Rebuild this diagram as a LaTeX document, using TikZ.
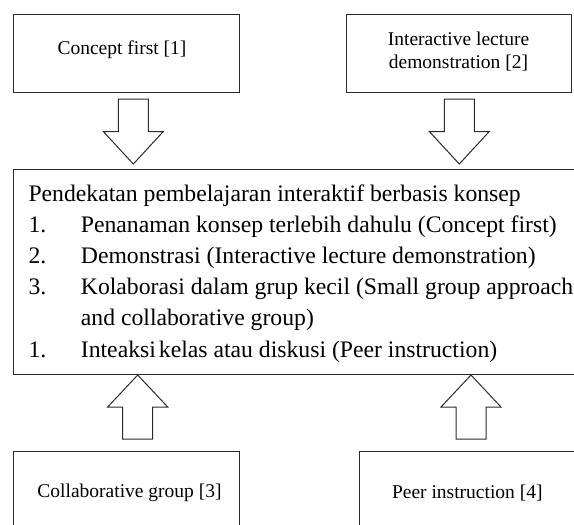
\documentclass[tikz,border=0pt]{standalone}
\usepackage{fontspec}
\setmainfont{Liberation Serif}
\usetikzlibrary{calc}
\definecolor{linec}{HTML}{2B2B2B}
\newcommand\blockarr[2]{%
  \draw[blockarrow] let \p1=(#1), \p2=(#2), \n1={(\y2-\y1)/2} in
    (\x1-15pt,\y1) -- (\x1-15pt,\y1+\n1) -- (\x1-30pt,\y1+\n1) -- (\x2,\y2)
    -- (\x1+30pt,\y1+\n1) -- (\x1+15pt,\y1+\n1) -- (\x1+15pt,\y1) -- cycle;}
\begin{document}
\begin{tikzpicture}[x=1pt,y=-1pt,
  box/.style={draw=linec, line width=1pt, rectangle, inner sep=0pt},
  boxtext/.style={font=\fontsize{19.5}{22.4}\selectfont, align=center, inner sep=0pt, anchor=base},
  maintext/.style={font=\fontsize{23.7}{31}\selectfont, inner sep=0pt, anchor=base west},
  blockarrow/.style={draw=linec, line width=1pt, fill=white, line join=miter}]
\useasboundingbox (0,0) rectangle (574,525);
% boxes
\node[box, minimum width=225.7pt, minimum height=78pt] (A) at (126.15,53.3) {};
\node[box, minimum width=225.7pt, minimum height=78pt] (B) at (458.85,53.3) {};
\node[box, minimum width=586.7pt, minimum height=205.3pt] (M) at (306.65,271.65) {};
\node[box, minimum width=225.7pt, minimum height=108.5pt] (C) at (126.15,505.75) {};
\node[box, minimum width=241pt, minimum height=108.5pt] (D) at (479.5,505.75) {};
% box texts
\node[boxtext] (At) at (122,54.8) {Concept first [1]};
\node[boxtext] (Bt) at (458.5,68.1) {Interactive lecture\\demonstration [2]};
\node[boxtext] (Ct) at (129.5,497.4) {Collaborative group [3]};
\node[boxtext] (Dt) at (467.3,498.1) {Peer instruction [4]};
% main text
\node[maintext] (L0) at (28.3,201.5) {Pendekatan pembelajaran interaktif berbasis konsep};
\node[maintext] (n1) at (28.3,232.6) {1.};
\node[maintext] (i1) at (80.7,232.6) {Penanaman konsep terlebih dahulu (Concept first)};
\node[maintext] (n2) at (28.3,263.7) {2.};
\node[maintext] (i2) at (80.7,263.7) {Demonstrasi (Interactive lecture demonstration)};
\node[maintext] (n3) at (28.3,294.8) {3.};
\node[maintext] (i3) at (80.7,294.8) {Kolaborasi dalam grup kecil (Small group approach};
\node[maintext] (i3b) at (80.7,325.9) {and collaborative group)};
\node[maintext] (n4) at (28.3,357) {1.};
\node[maintext] (i4) at (80.7,357) {Inteaksi\hspace{3pt}kelas atau diskusi (Peer instruction)};
% arrow ends
\coordinate (a1t) at (133.3,99);  \coordinate (a1h) at (133.3,164);
\coordinate (a2t) at (459.3,99);  \coordinate (a2h) at (459.3,164);
\coordinate (a3t) at (137.7,439); \coordinate (a3h) at (137.7,375);
\coordinate (a4t) at (471,439);   \coordinate (a4h) at (471,375);
\blockarr{a1t}{a1h}
\blockarr{a2t}{a2h}
\blockarr{a3t}{a3h}
\blockarr{a4t}{a4h}
\end{tikzpicture}
\end{document}
